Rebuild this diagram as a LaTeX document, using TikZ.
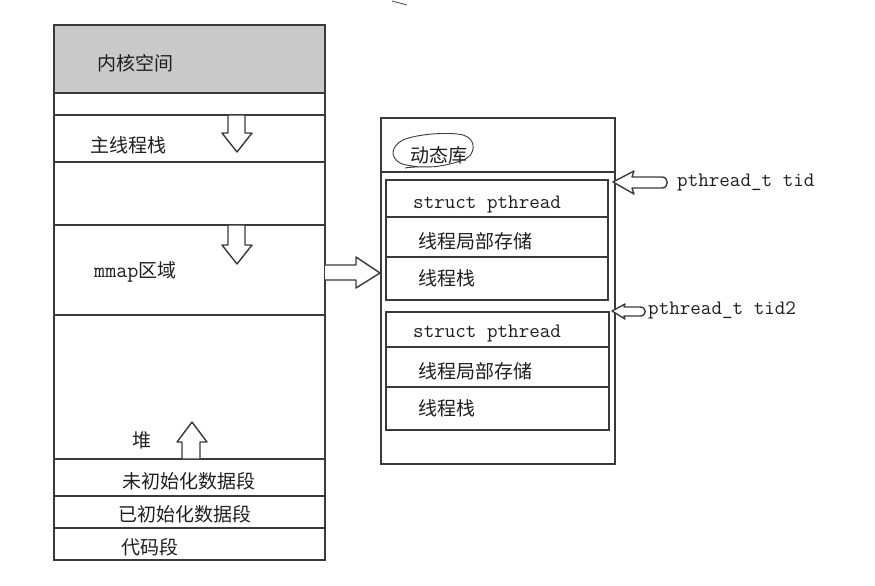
\documentclass[tikz,border=0pt]{standalone}
\usepackage{fontspec}
\setmainfont{Noto Sans CJK SC}
\definecolor{ln}{HTML}{3A3A3A}
\definecolor{kern}{HTML}{C9C9C9}
\definecolor{tx}{HTML}{1E1E1E}
\begin{document}
\begin{tikzpicture}[x=1pt,y=-1pt,
  box/.style={draw=ln, line width=1.6pt},
  sep/.style={draw=ln, line width=1.5pt},
  lbl/.style={anchor=west, inner sep=0pt, text=tx, font=\fontsize{19}{19}\selectfont},
  mono/.style={anchor=west, inner sep=0pt, text=tx, font=\ttfamily\fontsize{20.5}{20.5}\selectfont},
  harrow/.style={draw=ln, line width=1.4pt, fill=white, line join=round}]
\useasboundingbox (0,0) rectangle (875,586);
% stray stroke
\draw[ln, line width=0.8pt] (392,1) -- (407,5);
% ---------- left memory layout ----------
\fill[kern] (54,25) rectangle (325,93);
\draw[box] (54,25) rectangle (325,560);
\foreach \yy in {93,115,162,225,315,459,496,528} \draw[sep] (54,\yy) -- (325,\yy);
\node[lbl] (kernel) at (97,63) {内核空间};
\node[lbl] (mainstack) at (90,145) {主线程栈};
\node[lbl] (mmap) at (94,272) {{\ttfamily\fontsize{21.5}{21.5}\selectfont mmap}区域};
\node[lbl] (heap) at (132,440) {堆};
\node[lbl] (bss) at (122,481) {未初始化数据段};
\node[lbl] (data) at (118,514) {已初始化数据段};
\node[lbl] (text) at (121,547) {代码段};
% hollow arrows
\draw[harrow] (228,115) -- (245,115) -- (245,133) -- (252,133) -- (237,152) -- (222,133) -- (228,133) -- cycle;
\draw[harrow] (228,225) -- (245,225) -- (245,245) -- (252,245) -- (237,264) -- (222,245) -- (228,245) -- cycle;
\draw[harrow] (182,459) -- (200,459) -- (200,442) -- (207,442) -- (192,422) -- (177,442) -- (182,442) -- cycle;
% ---------- right: dynamic library ----------
\draw[box] (381,118) rectangle (615,464);
\draw[sep] (381,172) -- (615,172);
\node[lbl] (dyn) at (410,155) {动态库};
\draw[ln, line width=0.9pt] plot[smooth, tension=0.6] coordinates {(420,167) (400,163) (393,152) (403,140) (432,134) (463,135) (473,145) (467,158) (440,166) (415,167) (405,168)};
% thread 1
\draw[box] (386,180) rectangle (608,300);
\draw[sep] (386,217) -- (608,217);
\draw[sep] (386,257) -- (608,257);
\node[mono] (sp1) at (413,205) {struct pthread};
\node[lbl] (tls1) at (418,241) {线程局部存储};
\node[lbl] (ts1) at (418,278) {线程栈};
% thread 2
\draw[box] (386,312) rectangle (609,430);
\draw[sep] (386,347) -- (609,347);
\draw[sep] (386,387) -- (609,387);
\node[mono] (sp2) at (413,334) {struct pthread};
\node[lbl] (tls2) at (418,371) {线程局部存储};
\node[lbl] (ts2) at (418,408) {线程栈};
% arrow from mmap to library
\draw[harrow] (325,265) -- (356,265) -- (356,257) -- (380,273) -- (356,288) -- (356,280) -- (325,280);
% pthread_t arrows
\draw[harrow] (613,182) -- (634,171) -- (632,177) -- (662,177) .. controls (669,177) and (669,188) .. (662,188) -- (632,188) -- (634,194) -- cycle;
\node[mono] (tid) at (677,183) {pthread\_t tid};
\draw[harrow] (612,311) -- (625,304) -- (624,307) -- (640,307) .. controls (647,307) and (647,316) .. (640,316) -- (624,316) -- (625,319) -- cycle;
\node[mono] (tid2) at (648,310) {pthread\_t tid2};
\end{tikzpicture}
\end{document}
